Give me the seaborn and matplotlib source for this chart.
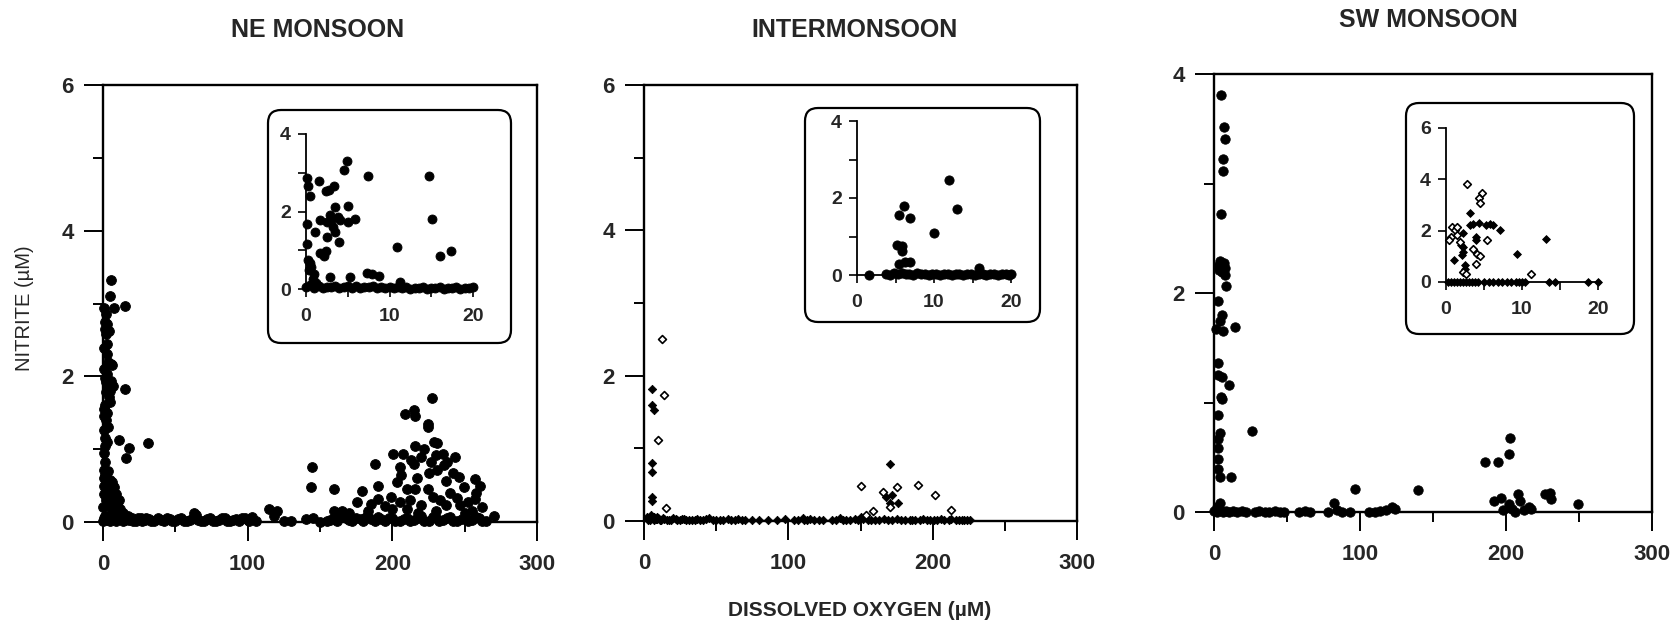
import matplotlib
matplotlib.use("Agg")
import matplotlib.pyplot as plt
import seaborn as sns
import pandas as pd
from matplotlib.patches import FancyBboxPatch
from matplotlib.ticker import MultipleLocator

# ---------------- DATA (dissolved oxygen µM, nitrite µM) ----------------
titles = ["NE MONSOON", "INTERMONSOON", "SW MONSOON"]
x_label = "DISSOLVED OXYGEN (µM)"
y_label = "NITRITE (µM)"

ne_column = [(5.4,3.32),(4.7,3.10),(7.9,2.94),(15.3,2.96),(1.0,2.94),(2.0,2.86),(3.0,2.72),(1.5,2.65),(2.0,2.58),(4.0,2.62),
             (1.0,2.39),(2.5,2.30),(5.4,2.17),(6.5,2.15),(3.0,2.03),(1.5,1.98),(5.4,1.93),(3.0,1.84),(6.7,1.87),(15.3,1.83),
             (2.0,1.78),(4.2,1.71),(1.7,1.60),(5.0,1.65),(3.0,1.49),(2.0,1.40),(0.5,1.27),(1.7,1.16),(11.0,1.12),(17.7,1.02),
             (15.8,0.88),(31.3,1.08),(1.2,1.05),(1.2,0.83),(0.8,0.95),(0.5,0.72),(0.5,0.61),(1.0,0.50),(7.4,0.48),(9.1,0.38),
             (1.0,0.39),(3.0,0.45),(5.0,0.42),(2.0,0.30),(6.0,0.33),(8.0,0.28),(10.0,0.25),(4.0,0.22),(12.0,0.18),(0.3,0.20),
             (2.5,2.45),(3.5,2.20),(4.5,1.80),(1.0,1.55),(2.5,1.10),(3.5,0.70),(6.0,0.55),(8.5,0.15),(14.0,0.12),(0.5,0.05),
             (1.5,2.75),(0.8,2.10),(2.2,1.92),(0.7,1.45),(3.8,1.30),(1.5,0.65),(4.5,0.58),(7.0,0.20),(11.0,0.30),(9.5,0.10)]
ne_baseline = [(0,0.02),(1.5,0.08),(3,0.03),(4.5,0.10),(6,0.05),(8,0.09),(10,0.04),(12,0.07),(14,0.02),(16,0.06),
               (18,0.03),(20,0.05),(23,0.02),(26,0.06),(29,0.03),(32,0.04),(35,0.01),(40,0.03),(44,0.05),(48,0.02),
               (52,0.04),(56,0.01),(60,0.03),(64,0.09),(68,0.02),(72,0.04),(76,0.01),(80,0.03),(84,0.05),(88,0.02),
               (92,0.04),(96,0.06),(100,0.03),(103,0.07),(106,0.02),(118,0.08),(125,0.02),(130,0.01),(140,0.04),(145,0.06),
               (150,0.00),(155,0.02),(160,0.05),(165,0.08),(170,0.03),(175,0.06),(180,0.02),(185,0.04),(190,0.07),(195,0.01),
               (200,0.05),(205,0.02),(210,0.06),(215,0.03),(220,0.08),(225,0.02),(230,0.05),(235,0.03),(240,0.07),(245,0.02),
               (250,0.06),(255,0.03),(260,0.05),(265,0.02),
               (2,0.05),(5,0.02),(7,0.07),(9,0.01),(11,0.09),(13,0.05),(15,0.03),(17,0.08),(21,0.02),(24,0.05),
               (27,0.01),(30,0.06),(33,0.02),(38,0.05),(42,0.01),(46,0.04),(50,0.02),(54,0.06),(58,0.02),(62,0.05),
               (66,0.03),(70,0.01),(74,0.05),(78,0.02),(82,0.06),(86,0.01),(90,0.03),(94,0.02),(98,0.05),(101,0.01),
               (157,0.03),(162,0.01),(168,0.05),(172,0.01),(178,0.04),(182,0.07),(188,0.02),(192,0.04),(198,0.06),(202,0.01),
               (208,0.04),(212,0.02),(218,0.05),(222,0.01),(228,0.07),(232,0.02),(238,0.05),(242,0.01),(248,0.04),(252,0.02),
               (258,0.07),(262,0.01)]
ne_cluster = [(208.8,1.48),(215,1.54),(216,1.46),(224.8,1.35),(227.3,1.70),(224.8,1.30),(200.2,0.94),(207.5,0.94),(216,1.05),(228.5,1.10),
              (231,1.08),(220,0.89),(227,0.83),(234.7,0.94),(243,0.89),(236,0.78),(225,0.67),(215,0.80),(231,0.72),(242,0.67),
              (237,0.56),(205,0.75),(187.8,0.80),(190,0.50),(179,0.42),(206,0.64),(210,0.45),(217,0.61),(216,0.45),(224.8,0.45),
              (249.5,0.48),(257,0.59),(260.5,0.50),(252,0.28),(257,0.31),(270,0.08),(144.7,0.75),(143.5,0.48),(159.5,0.45),(175.5,0.28),
              (199,0.34),(190,0.31),(237,0.23),(247,0.23),(220,0.23),(210,0.18),(200,0.18),(183,0.15),(159.5,0.15),(115,0.18),
              (120,0.15),(63,0.12),(212,0.30),(228,0.35),(233,0.30),(240,0.40),(245,0.33),(255,0.15),(262,0.20),(195,0.22),
              (185,0.25),(170,0.12),(165,0.15),(205,0.28),(230,0.15),(218,0.12),(250,0.12),(258,0.40),(213,0.85),(222,1.00),
              (230,0.92),(238,0.82),(246,0.62),(203,0.55)]
ne_inset = [(4.97,3.31),(4.5,3.06),(7.4,2.91),(14.7,2.92),(1.5,2.80),(0.1,2.86),(0.2,2.65),(0.5,2.39),(3.4,2.66),(2.8,2.56),
            (2.4,2.52),(3.5,2.11),(5.0,2.15),(2.9,1.91),(3.8,1.87),(1.7,1.77),(2.5,1.74),(5.9,1.81),(5.0,1.72),(4.1,1.78),
            (0.1,1.68),(1.1,1.48),(2.5,1.35),(3.5,1.48),(15.1,1.80),(10.9,1.09),(4.0,1.21),(1.7,0.92),(2.4,0.97),(2.1,0.84),
            (0.1,1.16),(16.1,0.86),(17.4,0.99),(0.5,0.66),(0.3,0.49),(0.9,0.40),(2.9,0.32),(5.3,0.32),(7.3,0.42),(7.9,0.40),
            (8.8,0.34),(11.2,0.19),(0.2,0.75),(0.6,0.58),(0.8,0.25),(1.2,0.15),(3.2,1.60),(3.0,1.75)]
ne_inset_base = [(0,0.05),(0.5,0.10),(1,0.03),(1.5,0.08),(2,0.02),(2.5,0.06),(3,0.04),(3.5,0.09),(4,0.02),(4.5,0.05),
                 (5,0.07),(5.5,0.03),(6,0.08),(6.5,0.02),(7,0.06),(7.5,0.04),(8,0.09),(8.5,0.03),(9,0.05),(9.5,0.02),
                 (10,0.06),(10.5,0.03),(11,0.05),(11.5,0.02),(12,0.04),(12.5,0.01),(13,0.03),(13.5,0.02),(14,0.04),(14.5,0.01),
                 (15,0.03),(15.5,0.02),(16,0.04),(16.5,0.01),(17,0.03),(17.5,0.02),(18,0.04),(18.5,0.01),(19,0.03),(19.5,0.02),
                 (20,0.04)]

im_open = [(12.3,2.50),(13.6,1.73),(9.9,1.11),(15.3,0.18),(150,0.48),(165.4,0.40),(175.3,0.47),(190,0.50),(201.7,0.36),
           (170.4,0.19),(213,0.15),(158.5,0.14),(153.6,0.08)]
im_filled = [(5.7,1.81),(5.7,1.59),(6.7,1.53),(5.7,0.80),(5.7,0.67),(5.7,0.33),(5.7,0.27),(170.4,0.78),(167.9,0.33),
             (170.4,0.25),(171.6,0.36),(176,0.25),(5,0.08),(7,0.06),(9,0.05)]
im_baseline = [(2,0.05),(4,0.02),(6,0.06),(8,0.03),(10,0.04),(12,0.01),(14,0.03),(17,0.02),(20,0.04),(23,0.01),
               (26,0.03),(29,0.02),(33,0.01),(37,0.03),(41,0.02),(45,0.04),(50,0.01),(55,0.02),(60,0.01),(65,0.03),
               (70,0.01),(75,0.02),(80,0.01),(86,0.02),(92,0.01),(98,0.03),(104,0.01),(110,0.04),(113,0.02),(118,0.01),
               (124,0.02),(130,0.01),(136,0.04),(140,0.02),(146,0.03),(150,0.05),(155,0.02),(160,0.01),(166,0.03),(172,0.02),
               (178,0.01),(184,0.02),(188,0.01),(193,0.03),(198,0.01),(203,0.02),(208,0.01),(213,0.03),(218,0.01),(222,0.02),
               (226,0.01),
               (3,0.02),(5,0.04),(7,0.01),(9,0.03),(11,0.02),(13,0.04),(16,0.01),(19,0.02),(22,0.03),(25,0.01),
               (28,0.03),(31,0.01),(35,0.02),(39,0.01),(43,0.03),(48,0.02),(53,0.01),(58,0.03),(63,0.01),(68,0.02),
               (107,0.02),(111,0.01),(115,0.03),(121,0.02),(133,0.02),(138,0.01),(143,0.02),(148,0.01),(152,0.03),(157,0.01),
               (163,0.02),(169,0.01),(175,0.03),(181,0.01),(186,0.02),(191,0.01),(196,0.02),(201,0.01),(206,0.03),(211,0.01),
               (216,0.02),(220,0.01),(224,0.02)]
im_inset = [(11.9,2.48),(13.0,1.72),(6.1,1.79),(5.4,1.57),(6.9,1.49),(10.0,1.10),(5.2,0.78),(5.8,0.76),(5.8,0.63),
            (5.5,0.28),(6.9,0.33),(6.2,0.33),(1.6,0.0),(15.8,0.17)]
im_inset_base = [(3.8,0.03),(4.3,0.01),(4.8,0.04),(5.3,0.02),(5.8,0.05),(6.3,0.02),(6.8,0.03),(7.3,0.01),(7.8,0.04),(8.3,0.02),
                 (8.8,0.03),(9.3,0.01),(9.8,0.02),(10.3,0.03),(10.8,0.01),(11.3,0.02),(11.8,0.03),(12.3,0.01),(12.8,0.02),(13.3,0.03),
                 (13.8,0.01),(14.3,0.02),(14.8,0.03),(15.3,0.01),(15.8,0.02),(16.3,0.03),(16.8,0.01),(17.3,0.02),(17.8,0.03),(18.3,0.01),
                 (18.8,0.02),(19.3,0.03),(19.8,0.01),(20.0,0.02)]

sw_points = [(5,3.81),(6.7,3.52),(7.5,3.41),(6,3.22),(6,3.11),(5,2.72),(4.2,2.29),(6.7,2.27),(2.8,2.25),(7.7,2.23),
             (5.5,2.19),(7.5,2.16),(8.5,2.06),(3,1.93),(5.5,1.80),(4.2,1.74),(1.7,1.67),(6.2,1.65),(14.7,1.69),(3,1.36),
             (2.5,1.25),(5.5,1.23),(10.4,1.16),(5.5,1.03),(3,0.89),(4.2,0.72),(2.5,0.67),(3,0.58),(2.5,0.48),(3,0.39),
             (4.2,0.32),(11.7,0.32),(26.1,0.74),(96.4,0.21),(139.7,0.20),(185.7,0.46),(194.4,0.46),(203,0.68),(201.8,0.53),(191.9,0.10),
             (196.9,0.13),(208,0.16),(209.3,0.10),(226.7,0.16),(230.4,0.17),(231,0.12),(249,0.07),(201.8,0.07),(215.5,0.05),(204,0.03),
             (82.5,0.08),(122,0.05),(3.5,2.21),(4.5,1.05),(2,0.05),(4,0.08)]
sw_baseline = [(0,0.01),(2,0.0),(4,0.02),(6,0.0),(8,0.01),(10,0.0),(13,0.01),(16,0.0),(19,0.01),(22,0.0),
               (28,0.0),(31,0.01),(35,0.0),(38,0.0),(42,0.01),(45,0.0),(48,0.0),(58,0.0),(62,0.01),(66,0.0),
               (78,0.0),(84,0.02),(88,0.0),(93,0.0),(106,0.0),(110,0.0),(114,0.01),(118,0.02),(124,0.03),(198,0.02),
               (206,0.0),(212,0.02),(217,0.03)]
sw_inset_open = [(2.8,3.81),(4.7,3.46),(4.3,3.26),(4.5,3.09),(0.8,2.15),(1.2,2.02),(0.6,1.76),(0.4,1.63),(1.4,2.15),(5.4,1.63),
                 (3.6,1.28),(4.1,1.11),(4.5,1.0),(3.9,0.72),(2.3,0.39),(2.6,0.30),(11.2,0.33),(1.5,1.85),(1.9,1.55)]
sw_inset_filled = [(3.2,2.67),(3.1,2.22),(3.6,2.26),(4.3,2.28),(5.2,2.22),(5.8,2.26),(6.2,2.22),(7.1,2.02),(2.2,1.89),(3.9,1.76),
                   (4.0,1.63),(2.2,1.37),(2.3,1.17),(2.1,1.04),(1.0,0.85),(9.3,1.11),(13.2,1.66),(2.5,0.65),(2.0,1.45),(2.5,0.5),
                   (0.2,0),(0.6,0),(1,0),(1.4,0),(1.8,0),(2.2,0),(2.6,0),(3,0),(3.4,0),(3.8,0),
                   (4.2,0),(5,0),(5.6,0),(6.2,0),(6.8,0),(7.4,0),(8,0),(8.6,0),(9.2,0),(9.6,0),
                   (10,0),(10.4,0),(13.5,0),(14.3,0),(18.7,0),(20,0)]

# ---------------- STYLE ----------------
sns.set_theme(style="white")
plt.rcParams['font.family'] = ['Liberation Sans', 'DejaVu Sans']
plt.rcParams['axes.linewidth'] = 1.7

W, H = 1676, 624
fig = plt.figure(figsize=(W / 100, H / 100), dpi=100)
fig.patch.set_facecolor("white")


def px_axes(l, t, r, b):
    return fig.add_axes([l / W, 1 - b / H, (r - l) / W, (b - t) / H])


def df(points):
    return pd.DataFrame(points, columns=["do", "no2"])


def scatter(ax, points, marker, s, filled=True):
    d = df(points)
    if filled:
        sns.scatterplot(data=d, x="do", y="no2", ax=ax, marker=marker, s=s, color="black",
                        edgecolor="black", linewidth=0.6, clip_on=False, legend=False, zorder=3)
    else:
        sns.scatterplot(data=d, x="do", y="no2", ax=ax, marker=marker, s=s, facecolor="white",
                        edgecolor="black", linewidth=1.2, clip_on=False, legend=False, zorder=4)


def style_main(ax, ymax, ymajor):
    ax.set_xlim(0, 300)
    ax.set_ylim(0, ymax)
    for sp in ax.spines.values():
        sp.set_visible(True)
        sp.set_color("black")
        sp.set_linewidth(1.7)
    ax.xaxis.set_major_locator(MultipleLocator(100))
    ax.xaxis.set_minor_locator(MultipleLocator(50))
    ax.yaxis.set_major_locator(MultipleLocator(ymajor))
    ax.yaxis.set_minor_locator(MultipleLocator(1))
    ax.tick_params(axis="both", which="major", direction="out", length=14, width=1.4,
                   labelsize=16, color="black", bottom=True, left=True, top=False, right=False)
    ax.tick_params(axis="both", which="minor", direction="out", length=7, width=1.4,
                   color="black", bottom=True, left=True, top=False, right=False)
    ax.tick_params(axis="x", which="major", pad=9)
    ax.tick_params(axis="y", which="major", pad=7)
    for lab in ax.get_xticklabels() + ax.get_yticklabels():
        lab.set_fontweight("bold")
    ax.set_xlabel("")
    ax.set_ylabel("")
    ax.set_facecolor("white")


def style_inset(ax, ymax, yticks, ylabels):
    ax.set_xlim(0, 20)
    ax.set_ylim(0, ymax)
    ax.spines["top"].set_visible(False)
    ax.spines["right"].set_visible(False)
    for k in ("left", "bottom"):
        ax.spines[k].set_color("black")
        ax.spines[k].set_linewidth(1.3)
    ax.set_xticks([0, 5, 10, 15, 20])
    ax.set_xticklabels(["0", "", "10", "", "20"])
    ax.set_yticks(yticks)
    ax.set_yticklabels(ylabels)
    ax.tick_params(axis="both", direction="out", length=6, width=1.2, labelsize=14,
                   color="black", bottom=True, left=True, pad=5)
    ax.tick_params(axis="x", pad=8)
    for lab in ax.get_xticklabels() + ax.get_yticklabels():
        lab.set_fontweight("bold")
    ax.set_xlabel("")
    ax.set_ylabel("")
    ax.patch.set_alpha(0)


def box(l, t, r, b):
    p = FancyBboxPatch((l / 100, (H - b) / 100), (r - l) / 100, (b - t) / 100,
                       boxstyle="round,pad=0,rounding_size=0.13", transform=fig.dpi_scale_trans,
                       fill=True, facecolor="white", edgecolor="black", linewidth=1.6, zorder=5)
    fig.add_artist(p)


# ---------------- PANEL 1: NE MONSOON ----------------
ax1 = px_axes(103, 85, 537, 522)
scatter(ax1, ne_baseline, "o", 50)
scatter(ax1, ne_column, "o", 50)
scatter(ax1, ne_cluster, "o", 50)
style_main(ax1, 6, 2)

# ---------------- PANEL 2: INTERMONSOON ----------------
ax2 = px_axes(644, 85, 1077, 521)
scatter(ax2, im_baseline, "D", 18)
scatter(ax2, im_filled, "D", 18)
scatter(ax2, im_open, "D", 16, filled=False)
style_main(ax2, 6, 2)

# ---------------- PANEL 3: SW MONSOON ----------------
ax3 = px_axes(1214, 74, 1652, 512)
scatter(ax3, sw_baseline, "o", 46)
scatter(ax3, sw_points, "o", 46)
style_main(ax3, 4, 2)

# ---------------- INSETS ----------------
box(268, 110, 511, 343)
box(805, 108, 1040, 322)
box(1406, 103, 1634, 334)

ia1 = px_axes(306, 134, 473, 289)
ia1.set_zorder(6)
scatter(ia1, ne_inset_base, "o", 42)
scatter(ia1, ne_inset, "o", 42)
style_inset(ia1, 4, [0, 1, 2, 3, 4], ["0", "", "2", "", "4"])

ia2 = px_axes(857, 121, 1011, 275)
ia2.set_zorder(6)
scatter(ia2, im_inset_base, "o", 44)
scatter(ia2, im_inset, "o", 44)
style_inset(ia2, 4, [0, 1, 2, 3, 4], ["0", "", "2", "", "4"])

ia3 = px_axes(1446, 128, 1598, 282)
ia3.set_zorder(6)
scatter(ia3, sw_inset_filled, "D", 16)
scatter(ia3, sw_inset_open, "D", 15, filled=False)
style_inset(ia3, 6, [0, 2, 4, 6], ["0", "2", "4", "6"])

# ---------------- TEXT ----------------
for (cx, cy), t in zip([(318, 30), (854, 30), (1428, 20)], titles):
    fig.text(cx / W, 1 - cy / H, t, ha="center", va="center", fontsize=18, fontweight="bold")
fig.text(860 / W, 1 - 611 / H, x_label, ha="center", va="center", fontsize=15, fontweight="bold")
fig.text(25 / W, 1 - 308 / H, y_label, ha="center", va="center", fontsize=14.5, rotation=90)

fig.savefig("out.png", dpi=100, facecolor="white")
